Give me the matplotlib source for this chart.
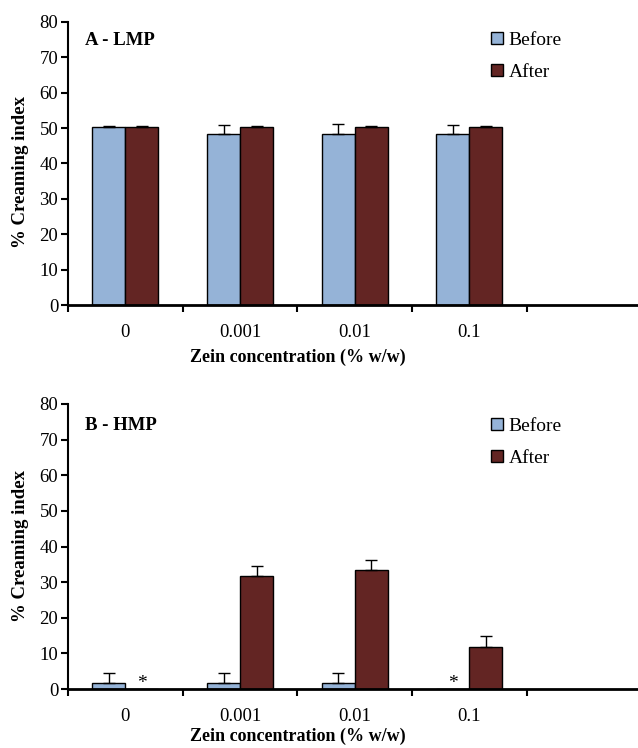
import matplotlib
matplotlib.use("Agg")
import matplotlib.pyplot as plt
import numpy as np

plt.rcParams['font.family'] = ['Liberation Serif', 'DejaVu Serif']

# data
conc = ['0', '0.001', '0.01', '0.1']
lmp_before = [50.2, 48.4, 48.3, 48.4]
lmp_before_err = [0.3, 2.6, 2.8, 2.5]
lmp_after = [50.2, 50.2, 50.2, 50.2]
lmp_after_err = [0.3, 0.5, 0.3, 0.3]

hmp_before = [1.8, 1.8, 1.8, 0.0]
hmp_before_err = [2.8, 2.8, 2.8, 0.0]
hmp_after = [0.0, 31.7, 33.4, 11.8]
hmp_after_err = [0.0, 2.9, 2.9, 3.1]

# asterisk = no creaming measured
hmp_before_star = [False, False, False, True]
hmp_after_star = [True, False, False, False]

c_before = '#95b3d7'
c_after = '#632523'

fig = plt.figure(figsize=(6.38, 7.48), dpi=100)
ax1 = fig.add_axes([68/638, 1-305/748, 570/638, 283/748])
ax2 = fig.add_axes([68/638, 1-689/748, 570/638, 285/748])

w = 0.288
x = np.arange(len(conc))


def draw(ax, before, berr, after, aerr, title, title_y, leg_y, ylab_y, xlab_y,
         bstar=None, astar=None):
    ax.bar(x - w/2, before, w, color=c_before, edgecolor='black', linewidth=1.0,
           label='Before', zorder=2)
    ax.bar(x + w/2, after, w, color=c_after, edgecolor='black', linewidth=1.0,
           label='After', zorder=2)
    # one sided error bars (upward)
    for i in range(len(x)):
        if berr[i] > 0:
            ax.errorbar(x[i] - w/2, before[i], yerr=[[0], [berr[i]]], fmt='none',
                        ecolor='black', elinewidth=1.0, capsize=4, capthick=1.0, zorder=3)
        if aerr[i] > 0:
            ax.errorbar(x[i] + w/2, after[i], yerr=[[0], [aerr[i]]], fmt='none',
                        ecolor='black', elinewidth=1.0, capsize=4, capthick=1.0, zorder=3)
    if bstar is not None:
        for i in range(len(x)):
            if bstar[i]:
                ax.text(x[i] - w/2, -0.9, '*', ha='center', va='bottom', fontsize=14)
            if astar[i]:
                ax.text(x[i] + w/2, -0.9, '*', ha='center', va='bottom', fontsize=14)

    ax.set_xlim(-0.5, 4.47)
    ax.set_ylim(0, 80)
    ax.set_yticks(np.arange(0, 81, 10))
    ax.set_xticks(np.arange(-0.5, 4, 1.0))
    ax.set_xticklabels([])
    ax.set_xticks(x, minor=True)
    ax.set_xticklabels(conc, minor=True)
    ax.tick_params(axis='x', which='major', direction='out', length=5, width=1.5)
    ax.tick_params(axis='x', which='minor', length=0, pad=14, labelsize=13.5)
    ax.tick_params(axis='y', direction='out', length=5, width=1.5, labelsize=13.5, pad=2)
    ax.spines['top'].set_visible(False)
    ax.spines['right'].set_visible(False)
    ax.spines['left'].set_linewidth(1.5)
    ax.spines['bottom'].set_linewidth(2.0)
    ax.set_ylabel('% Creaming index', fontsize=13.5, fontweight='bold')
    ax.yaxis.set_label_coords(-0.069, ylab_y)
    ax.set_xlabel('Zein concentration (% w/w)', fontsize=13, fontweight='bold')
    ax.xaxis.set_label_coords(2.0/4.97, xlab_y)
    ax.text(0.03, title_y, title, transform=ax.transAxes, fontsize=13.5,
            fontweight='bold', ha='left', va='center')
    ax.legend(loc='upper left', bbox_to_anchor=(0.725, leg_y), frameon=False,
              fontsize=14, handlelength=0.6, handleheight=0.6, handletextpad=0.3,
              labelspacing=0.75, borderpad=0)


draw(ax1, lmp_before, lmp_before_err, lmp_after, lmp_after_err, 'A - LMP',
     0.936, 0.999, 0.47, -0.153)
draw(ax2, hmp_before, hmp_before_err, hmp_after, hmp_after_err, 'B - HMP',
     0.926, 0.985, 0.5, -0.135, hmp_before_star, hmp_after_star)

fig.savefig('out.png', dpi=100)
